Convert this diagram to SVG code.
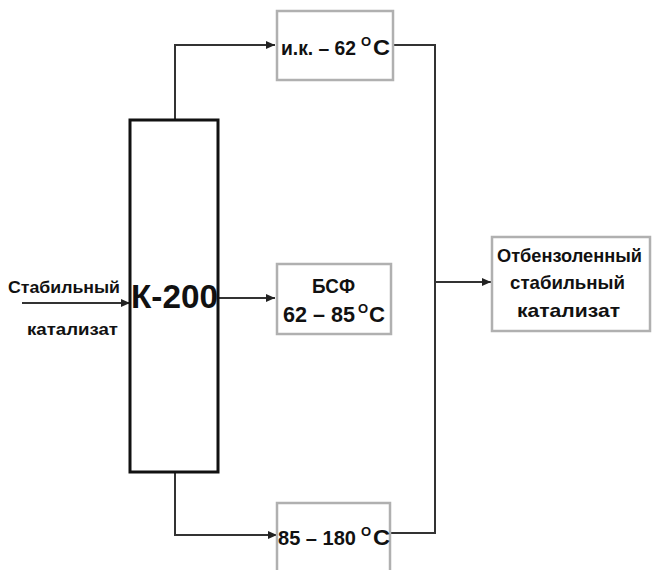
<svg xmlns="http://www.w3.org/2000/svg" width="652" height="570" viewBox="0 0 652 570">
<defs>
<marker id="arr" markerWidth="10" markerHeight="10" refX="9" refY="5" orient="auto" markerUnits="userSpaceOnUse">
<path d="M0,1 L9,5 L0,9 Z" fill="#222"/>
</marker>
<style>
.box{fill:#fff;stroke:#b0b0b0;stroke-width:2.5}
.col{fill:#fff;stroke:#111;stroke-width:3}
.ln{fill:none;stroke:#333;stroke-width:2}
.t{font-family:"Liberation Sans",Arial,sans-serif;font-weight:bold;fill:#111}
.sup{font-size:13px}
.big{font-size:22px}
.mid{font-size:20px}
</style>
</defs>
<rect width="652" height="570" fill="#fff"/>
<g id="connectors">
<path class="ln" d="M175,120 V45 H275" marker-end="url(#arr)"/>
<path class="ln" d="M218,298 H275" marker-end="url(#arr)"/>
<path class="ln" d="M175,472 V535 H277" marker-end="url(#arr)"/>
<path class="ln" d="M22,303 H130" marker-end="url(#arr)"/>
<path class="ln" d="M392,45 H435 V533 H391"/>
<path class="ln" d="M435,282 H491" marker-end="url(#arr)"/>
</g>
<g id="column">
<rect class="col" x="130" y="120" width="88" height="352"/>
<text class="t" x="131" y="308" font-size="34" font-weight="normal" textLength="87" lengthAdjust="spacingAndGlyphs">К-200</text>
</g>
<g id="feed">
<text class="t" x="8" y="293" font-size="17" textLength="112" lengthAdjust="spacingAndGlyphs">Стабильный</text>
<text class="t" x="27" y="335" font-size="17" textLength="91" lengthAdjust="spacingAndGlyphs">катализат</text>
</g>
<g id="box1">
<rect class="box" x="277" y="11" width="116" height="69"/>
<text class="t mid" x="281" y="55" textLength="75" lengthAdjust="spacingAndGlyphs">и.к. – 62</text>
<text class="t sup" x="361" y="46">О</text>
<text class="t big" x="373" y="55" textLength="17" lengthAdjust="spacingAndGlyphs">С</text>
</g>
<g id="box2">
<rect class="box" x="277" y="264" width="114" height="70"/>
<text class="t" x="312" y="293" font-size="20" textLength="43" lengthAdjust="spacingAndGlyphs">БСФ</text>
<text class="t big" x="283" y="322" textLength="72" lengthAdjust="spacingAndGlyphs">62 – 85</text>
<text class="t sup" x="358" y="313">О</text>
<text class="t big" x="369" y="322" textLength="16" lengthAdjust="spacingAndGlyphs">С</text>
</g>
<g id="box3">
<rect class="box" x="277" y="503" width="113" height="80"/>
<text class="t mid" x="278" y="545" textLength="78" lengthAdjust="spacingAndGlyphs">85 – 180</text>
<text class="t sup" x="361" y="536">О</text>
<text class="t big" x="373" y="545" textLength="17" lengthAdjust="spacingAndGlyphs">С</text>
</g>
<g id="out">
<rect class="box" x="492" y="237" width="158" height="94"/>
<text class="t" x="497" y="262" font-size="19" textLength="145" lengthAdjust="spacingAndGlyphs">Отбензоленный</text>
<text class="t" x="510" y="289" font-size="19" textLength="115" lengthAdjust="spacingAndGlyphs">стабильный</text>
<text class="t" x="517" y="317" font-size="19" textLength="103" lengthAdjust="spacingAndGlyphs">катализат</text>
</g>
</svg>
